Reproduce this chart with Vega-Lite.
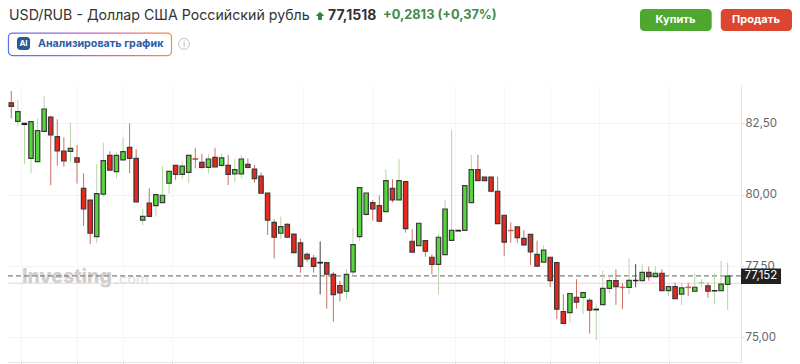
{"$schema":"https://vega.github.io/schema/vega-lite/v6.json","width":733,"height":277,"autosize":{"type":"none"},"padding":{"left":8,"top":85,"right":59,"bottom":2},"background":"#ffffff","config":{"view":{"stroke":null},"font":"Inter"},
"datasets":{"candles":[
{"i":0,"open":83.22,"high":83.63,"low":82.67,"close":83.09,"dir":"down"},
{"i":1,"open":82.57,"high":83.32,"low":82.41,"close":82.91,"dir":"up"},
{"i":2,"open":82.46,"high":82.5,"low":81.06,"close":82.5,"dir":"flatUp"},
{"i":3,"open":81.27,"high":82.56,"low":80.75,"close":82.56,"dir":"up"},
{"i":4,"open":81.16,"high":82.67,"low":81.16,"close":82.24,"dir":"up"},
{"i":5,"open":82.22,"high":83.46,"low":82.21,"close":83.0,"dir":"up"},
{"i":6,"open":82.72,"high":82.76,"low":80.33,"close":82.09,"dir":"down"},
{"i":7,"open":82.03,"high":82.64,"low":81.02,"close":81.53,"dir":"down"},
{"i":8,"open":81.53,"high":82.01,"low":80.98,"close":81.18,"dir":"down"},
{"i":9,"open":81.52,"high":82.52,"low":81.14,"close":81.62,"dir":"up"},
{"i":10,"open":81.29,"high":81.74,"low":80.39,"close":81.14,"dir":"down"},
{"i":11,"open":80.22,"high":80.75,"low":78.9,"close":79.5,"dir":"down"},
{"i":12,"open":79.81,"high":79.81,"low":78.27,"close":78.65,"dir":"down"},
{"i":13,"open":78.53,"high":81.07,"low":78.3,"close":80.04,"dir":"up"},
{"i":14,"open":80.02,"high":81.82,"low":79.93,"close":81.19,"dir":"up"},
{"i":15,"open":81.38,"high":81.52,"low":80.86,"close":80.86,"dir":"down"},
{"i":16,"open":80.81,"high":81.47,"low":80.57,"close":81.38,"dir":"up"},
{"i":17,"open":81.22,"high":82.01,"low":81.22,"close":81.51,"dir":"up"},
{"i":18,"open":81.66,"high":82.5,"low":80.75,"close":81.27,"dir":"down"},
{"i":19,"open":81.27,"high":81.59,"low":79.75,"close":79.75,"dir":"down"},
{"i":20,"open":79.11,"high":79.5,"low":78.94,"close":79.24,"dir":"up"},
{"i":21,"open":79.71,"high":80.22,"low":79.24,"close":79.24,"dir":"down"},
{"i":22,"open":79.62,"high":80.0,"low":79.23,"close":80.0,"dir":"up"},
{"i":23,"open":79.72,"high":81.0,"low":79.72,"close":79.98,"dir":"up"},
{"i":24,"open":80.4,"high":80.82,"low":80.03,"close":80.82,"dir":"up"},
{"i":25,"open":81.03,"high":81.04,"low":80.52,"close":80.71,"dir":"down"},
{"i":26,"open":80.71,"high":81.16,"low":80.55,"close":81.0,"dir":"up"},
{"i":27,"open":80.78,"high":81.39,"low":80.4,"close":81.38,"dir":"up"},
{"i":28,"open":81.26,"high":81.64,"low":80.92,"close":81.24,"dir":"crossDown"},
{"i":29,"open":81.13,"high":81.43,"low":80.91,"close":80.96,"dir":"down"},
{"i":30,"open":80.96,"high":81.43,"low":80.75,"close":81.25,"dir":"up"},
{"i":31,"open":81.31,"high":81.64,"low":80.96,"close":80.97,"dir":"down"},
{"i":32,"open":81.03,"high":81.43,"low":80.96,"close":81.29,"dir":"up"},
{"i":33,"open":81.03,"high":81.39,"low":80.34,"close":80.71,"dir":"down"},
{"i":34,"open":80.73,"high":81.26,"low":80.45,"close":80.88,"dir":"up"},
{"i":35,"open":80.73,"high":81.39,"low":80.57,"close":81.25,"dir":"up"},
{"i":36,"open":81.06,"high":81.27,"low":80.92,"close":80.96,"dir":"down"},
{"i":37,"open":80.9,"high":81.04,"low":80.42,"close":80.56,"dir":"down"},
{"i":38,"open":80.65,"high":80.78,"low":80.05,"close":80.05,"dir":"down"},
{"i":39,"open":80.06,"high":80.07,"low":78.59,"close":79.11,"dir":"down"},
{"i":40,"open":79.03,"high":79.14,"low":77.77,"close":78.51,"dir":"down"},
{"i":41,"open":78.65,"high":79.23,"low":78.44,"close":78.88,"dir":"up"},
{"i":42,"open":78.96,"high":79.0,"low":78.5,"close":78.51,"dir":"down"},
{"i":43,"open":78.62,"high":78.62,"low":77.95,"close":77.97,"dir":"down"},
{"i":44,"open":78.31,"high":78.47,"low":77.27,"close":77.49,"dir":"down"},
{"i":45,"open":77.91,"high":77.98,"low":77.66,"close":77.75,"dir":"down"},
{"i":46,"open":77.78,"high":77.89,"low":77.27,"close":77.49,"dir":"down"},
{"i":47,"open":77.63,"high":78.36,"low":76.51,"close":77.61,"dir":"flat"},
{"i":48,"open":77.62,"high":77.63,"low":76.01,"close":77.22,"dir":"down"},
{"i":49,"open":77.21,"high":77.3,"low":75.55,"close":76.5,"dir":"down"},
{"i":50,"open":76.82,"high":76.98,"low":76.27,"close":76.56,"dir":"down"},
{"i":51,"open":76.62,"high":77.39,"low":76.34,"close":77.21,"dir":"up"},
{"i":52,"open":77.3,"high":78.85,"low":77.15,"close":78.25,"dir":"up"},
{"i":53,"open":78.53,"high":80.26,"low":78.39,"close":80.25,"dir":"up"},
{"i":54,"open":79.31,"high":80.07,"low":79.25,"close":80.06,"dir":"up"},
{"i":55,"open":79.72,"high":79.81,"low":79.09,"close":79.5,"dir":"down"},
{"i":56,"open":79.62,"high":79.98,"low":79.06,"close":79.07,"dir":"down"},
{"i":57,"open":79.41,"high":80.89,"low":79.41,"close":80.49,"dir":"up"},
{"i":58,"open":80.22,"high":80.54,"low":79.73,"close":79.82,"dir":"down"},
{"i":59,"open":79.82,"high":81.24,"low":79.82,"close":80.49,"dir":"up"},
{"i":60,"open":80.46,"high":80.47,"low":78.67,"close":78.81,"dir":"down"},
{"i":61,"open":78.37,"high":78.79,"low":77.99,"close":77.99,"dir":"down"},
{"i":62,"open":78.22,"high":79.0,"low":78.2,"close":79.0,"dir":"up"},
{"i":63,"open":78.39,"high":78.4,"low":77.83,"close":78.02,"dir":"down"},
{"i":64,"open":77.81,"high":77.91,"low":77.22,"close":77.56,"dir":"down"},
{"i":65,"open":77.56,"high":78.62,"low":76.52,"close":78.51,"dir":"up"},
{"i":66,"open":77.9,"high":79.82,"low":77.9,"close":79.5,"dir":"up"},
{"i":67,"open":78.4,"high":82.27,"low":78.4,"close":78.75,"dir":"up"},
{"i":68,"open":78.75,"high":78.75,"low":78.73,"close":78.73,"dir":"flat"},
{"i":69,"open":78.75,"high":80.32,"low":78.75,"close":80.32,"dir":"up"},
{"i":70,"open":79.72,"high":81.39,"low":79.72,"close":80.88,"dir":"up"},
{"i":71,"open":80.88,"high":81.39,"low":80.49,"close":80.49,"dir":"down"},
{"i":72,"open":80.62,"high":80.62,"low":80.49,"close":80.49,"dir":"down"},
{"i":73,"open":80.62,"high":80.63,"low":80.08,"close":80.12,"dir":"down"},
{"i":74,"open":80.12,"high":80.63,"low":78.97,"close":78.99,"dir":"down"},
{"i":75,"open":79.28,"high":79.28,"low":77.85,"close":78.34,"dir":"down"},
{"i":76,"open":78.75,"high":79.03,"low":78.32,"close":78.74,"dir":"crossDown"},
{"i":77,"open":78.87,"high":78.88,"low":78.32,"close":78.5,"dir":"down"},
{"i":78,"open":78.47,"high":78.76,"low":78.22,"close":78.24,"dir":"down"},
{"i":79,"open":78.61,"high":78.62,"low":77.54,"close":78.0,"dir":"down"},
{"i":80,"open":77.91,"high":78.39,"low":77.48,"close":77.5,"dir":"down"},
{"i":81,"open":77.64,"high":78.23,"low":77.64,"close":78.06,"dir":"up"},
{"i":82,"open":77.81,"high":77.81,"low":76.76,"close":76.99,"dir":"down"},
{"i":83,"open":77.62,"high":77.62,"low":75.64,"close":75.99,"dir":"down"},
{"i":84,"open":75.91,"high":76.51,"low":75.49,"close":75.49,"dir":"down"},
{"i":85,"open":75.87,"high":76.54,"low":75.54,"close":76.54,"dir":"up"},
{"i":86,"open":76.41,"high":77.04,"low":76.01,"close":76.24,"dir":"down"},
{"i":87,"open":76.4,"high":76.62,"low":75.82,"close":76.57,"dir":"up"},
{"i":88,"open":76.3,"high":76.37,"low":75.14,"close":75.96,"dir":"down"},
{"i":89,"open":75.99,"high":76.16,"low":74.91,"close":75.97,"dir":"flatUp"},
{"i":90,"open":76.15,"high":77.34,"low":76.14,"close":76.72,"dir":"up"},
{"i":91,"open":76.72,"high":77.19,"low":76.55,"close":76.99,"dir":"up"},
{"i":92,"open":76.99,"high":77.39,"low":76.14,"close":76.78,"dir":"down"},
{"i":93,"open":76.76,"high":76.9,"low":76.0,"close":76.75,"dir":"crossDown"},
{"i":94,"open":76.75,"high":77.77,"low":76.52,"close":77.0,"dir":"up"},
{"i":95,"open":77.0,"high":77.57,"low":76.76,"close":76.99,"dir":"flat"},
{"i":96,"open":76.99,"high":77.57,"low":76.99,"close":77.28,"dir":"up"},
{"i":97,"open":77.28,"high":77.48,"low":76.99,"close":77.13,"dir":"down"},
{"i":98,"open":77.13,"high":77.5,"low":77.11,"close":77.25,"dir":"up"},
{"i":99,"open":77.25,"high":77.39,"low":76.64,"close":76.64,"dir":"down"},
{"i":100,"open":76.64,"high":76.84,"low":76.45,"close":76.78,"dir":"up"},
{"i":101,"open":76.78,"high":76.92,"low":76.35,"close":76.36,"dir":"down"},
{"i":102,"open":76.52,"high":76.9,"low":76.14,"close":76.74,"dir":"up"},
{"i":103,"open":76.76,"high":76.92,"low":76.45,"close":76.75,"dir":"crossDown"},
{"i":104,"open":76.62,"high":77.22,"low":76.59,"close":76.76,"dir":"up"},
{"i":105,"open":76.91,"high":77.04,"low":76.76,"close":76.92,"dir":"crossUp"},
{"i":106,"open":76.81,"high":76.93,"low":76.39,"close":76.62,"dir":"down"},
{"i":107,"open":76.64,"high":77.25,"low":76.16,"close":76.63,"dir":"flatUp"},
{"i":108,"open":76.64,"high":77.68,"low":76.64,"close":76.87,"dir":"up"},
{"i":109,"open":76.86,"high":77.63,"low":75.96,"close":77.15,"dir":"up"}
],"one":[{}]},
"data":{"name":"one"},
"layer":[
{"mark":{"type":"text","text":"Investing","font":"Inter","fontSize":19.5,"fontWeight":800,"align":"left","baseline":"middle","color":"#cfcfcf"},"encoding":{"x":{"datum":1.63,"type":"quantitative","title":null,"scale":{"domain":[-0.5,111.03],"nice":false,"zero":false,"padding":0},"axis":{"values":[1.55,10,17,24.45,44.4,55,67.5,75,82,89.4,100],"labels":false,"title":null,"grid":true,"gridColor":"#f5f5f5","domain":true,"domainColor":"#e2e4ee","ticks":true,"tickSize":2,"tickColor":"#dddddd"}},"y":{"datum":77.12,"type":"quantitative","title":null,"scale":{"domain":[74.142,83.841],"nice":false,"zero":false,"padding":0},"axis":{"orient":"right","values":[75,77.5,80,82.5],"title":null,"grid":true,"gridColor":"#f3f3f3","domain":true,"domainColor":"#e2e4ee","ticks":true,"tickSize":3,"tickColor":"#dddddd","labelFont":"Inter","labelFontSize":11.5,"labelColor":"#666666","labelPadding":1,"labelExpr":"replace(format(datum.value,'.2f'),'.',',')"}}}},
{"mark":{"type":"text","text":".com","font":"Inter","fontSize":14.5,"align":"left","baseline":"middle","color":"#dddddd"},"encoding":{"x":{"datum":15.75},"y":{"datum":77.02}}},
{"mark":{"type":"rule","color":"#f6cfcf","strokeWidth":1},"encoding":{"y":{"datum":76.9}}},
{"mark":{"type":"rule","color":"#808080","strokeWidth":1.2,"strokeDash":[5,3]},"encoding":{"y":{"datum":77.16}}},
{"data":{"name":"candles"},"mark":{"type":"rule","strokeWidth":1},"encoding":{"x":{"field":"i","type":"quantitative"},"y":{"field":"high","type":"quantitative"},"y2":{"field":"low"},"color":{"field":"dir","type":"nominal","legend":null,"scale":{"domain":["up","down","flat","flatUp","crossDown","crossUp"],"range":["#b4d6a3","#cb7064","#444444","#b4d6a3","#cb7064","#b4d6a3"]}}}},
{"data":{"name":"candles"},"mark":{"type":"bar","size":4.4,"strokeWidth":1.2},"encoding":{"x":{"field":"i","type":"quantitative"},"y":{"field":"open","type":"quantitative"},"y2":{"field":"close"},"fill":{"field":"dir","type":"nominal","legend":null,"scale":{"domain":["up","down","flat","flatUp","crossDown","crossUp"],"range":["#55d63a","#e8281c","#222222","#222222","#c9574a","#a9cf96"]}},"stroke":{"field":"dir","type":"nominal","legend":null,"scale":{"domain":["up","down","flat","flatUp","crossDown","crossUp"],"range":["#3a3a3a","#3a3a3a","#222222","#222222","#d0584c","#a9cf96"]}}}},
{"mark":{"type":"rect","fill":"#222222"},"encoding":{"x":{"datum":111.03},"x2":{"datum":117.12},"y":{"datum":77.42},"y2":{"datum":76.87}}},
{"mark":{"type":"text","text":"77,152","font":"Inter","fontSize":11.5,"align":"center","baseline":"middle","color":"#ffffff"},"encoding":{"x":{"datum":114.07},"y":{"datum":77.15}}},
{"mark":{"type":"text","text":"USD/RUB - Доллар США Российский рубль","font":"Inter","fontSize":14.2,"align":"left","baseline":"middle","color":"#333333"},"encoding":{"x":{"datum":-0.35},"y":{"datum":86.26}}},
{"mark":{"type":"point","filled":true,"color":"#2f7d3f","opacity":1,"size":70,"shape":"M0,-1L1,0L0.45,0L0.45,1L-0.45,1L-0.45,0L-1,0Z"},"encoding":{"x":{"datum":46.97},"y":{"datum":86.26}}},
{"mark":{"type":"text","text":"77,1518","font":"Inter","fontSize":14,"fontWeight":700,"align":"left","baseline":"middle","color":"#333333"},"encoding":{"x":{"datum":48.19},"y":{"datum":86.26}}},
{"mark":{"type":"text","text":"+0,2813  (+0,37%)","font":"Inter","fontSize":12.8,"fontWeight":700,"align":"left","baseline":"middle","color":"#3f8a4a"},"encoding":{"x":{"datum":56.56},"y":{"datum":86.29}}},
{"mark":{"type":"rect","fill":"#4ea72e","cornerRadius":4},"encoding":{"x":{"datum":95.66},"x2":{"datum":106.57},"y":{"datum":86.5},"y2":{"datum":85.73}}},
{"mark":{"type":"rect","fill":"#dc4530","cornerRadius":4},"encoding":{"x":{"datum":107.95},"x2":{"datum":118.79},"y":{"datum":86.5},"y2":{"datum":85.73}}},
{"mark":{"type":"text","text":"Купить","font":"Inter","fontSize":11,"fontWeight":700,"align":"center","baseline":"middle","color":"#ffffff"},"encoding":{"x":{"datum":101.06},"y":{"datum":86.12}}},
{"mark":{"type":"text","text":"Продать","font":"Inter","fontSize":11,"fontWeight":700,"align":"center","baseline":"middle","color":"#ffffff"},"encoding":{"x":{"datum":113.31},"y":{"datum":86.12}}},
{"mark":{"type":"rect","fill":"#ffffff","cornerRadius":4,"strokeWidth":1.2,"stroke":{"gradient":"linear","x1":0,"y1":0,"x2":1,"y2":0,"stops":[{"offset":0,"color":"#5a6ff0"},{"offset":0.55,"color":"#d060c0"},{"offset":1,"color":"#f0904a"}]}},"encoding":{"x":{"datum":-0.43},"x2":{"datum":24.38},"y":{"datum":85.66},"y2":{"datum":84.87}}},
{"mark":{"type":"rect","fill":"#2a5a9a","cornerRadius":3},"encoding":{"x":{"datum":0.87},"x2":{"datum":2.85},"y":{"datum":85.52},"y2":{"datum":85.07}}},
{"mark":{"type":"text","text":"AI","font":"Inter","fontSize":8,"fontWeight":700,"align":"center","baseline":"middle","color":"#ffffff"},"encoding":{"x":{"datum":1.86},"y":{"datum":85.29}}},
{"mark":{"type":"text","text":"Анализировать график","font":"Inter","fontSize":10.7,"fontWeight":700,"align":"left","baseline":"middle","color":"#2f5ca8"},"encoding":{"x":{"datum":4.06},"y":{"datum":85.28}}},
{"mark":{"type":"point","shape":"circle","size":120,"color":"#c4c4c4","strokeWidth":1,"opacity":1},"encoding":{"x":{"datum":26.28},"y":{"datum":85.28}}},
{"mark":{"type":"text","text":"i","font":"Inter","fontSize":9,"align":"center","baseline":"middle","color":"#b0b0b0"},"encoding":{"x":{"datum":26.28},"y":{"datum":85.28}}}
]}
